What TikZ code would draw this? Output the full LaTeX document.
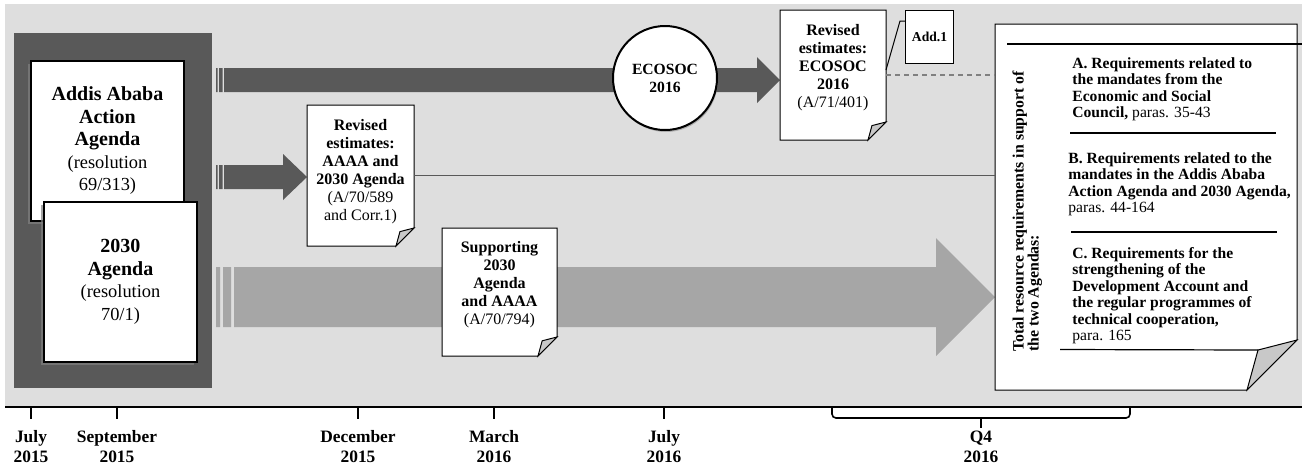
\documentclass[tikz,border=0pt]{standalone}
\usepackage{fontspec}
\setmainfont{Liberation Serif}
\usepackage{tikz}
\usetikzlibrary{calc,shadows}
\definecolor{bglight}{HTML}{DEDEDE}
\definecolor{bgdark}{HTML}{595959}
\definecolor{arrowlight}{HTML}{A6A6A6}
\definecolor{foldgray}{HTML}{C8C8C8}
\definecolor{dashgray}{HTML}{808080}
\pgfdeclarelayer{back}
\pgfdeclarelayer{paper}
\pgfsetlayers{back,paper,main}
\tikzstyle{agenda} = [rectangle, draw, line width=0.8pt, fill=white,
                 minimum width=76.5pt, minimum height=80pt, align=center,
                 font=\bfseries\fontsize{10}{11.25}\selectfont,
                 drop shadow={shadow xshift=-1.5pt, shadow yshift=-1.5pt, opacity=0.7}]
\tikzstyle{meeting} = [circle, draw, line width=1pt, fill=white, minimum size=52pt,
                 align=center, font=\bfseries\fontsize{7.8}{9}\selectfont,
                 drop shadow={shadow xshift=0.5pt, shadow yshift=-1pt, opacity=0.5}]
\tikzstyle{docbox} = [inner sep=0pt, outer sep=0pt, align=center,
                 font=\fontsize{8}{9}\selectfont]
\tikzstyle{reqtext} = [inner sep=0pt, anchor=north west, align=left,
                 font=\fontsize{7.8}{8.25}\selectfont]
\tikzstyle{datelabel} = [align=center, font=\bfseries\fontsize{8.7}{10}\selectfont]
\tikzstyle{fatdark} = [fill=bgdark]
\tikzstyle{fatlight} = [fill=arrowlight]
\tikzstyle{thinlink} = [draw=bgdark, line width=0.6pt]
\tikzstyle{dashlink} = [draw=dashgray, line width=0.6pt, dash pattern=on 2.5pt off 2pt]
\tikzstyle{sepline} = [draw, line width=0.6pt]
\newcommand{\agreg}[1]{{\mdseries\fontsize{9.2}{11.25}\selectfont #1}}

% folded paper behind a node
\newcommand{\docoutline}[2]{%
  \begin{pgfonlayer}{paper}
    \draw[fill=white, line width=0.5pt] (#1.north west) -- (#1.north east)
      -- ($(#1.south east)+(0,-#2)$) -- ($(#1.south east)+(-#2,0)$)
      -- (#1.south west) -- cycle;
    \draw[fill=foldgray, line width=0.5pt] ($(#1.south east)+(0,-#2)$)
      -- ($(#1.south east)+(-0.78*#2,-0.8*#2)$)
      -- ($(#1.south east)+(-#2,0)$) -- cycle;
  \end{pgfonlayer}}

\begin{document}
\begin{tikzpicture}[x=0.5pt, y=-0.5pt]
\useasboundingbox (0,0) rectangle (1302,468);

\begin{pgfonlayer}{back}
\fill[bglight] (5,4) rectangle (1302,406);
\fill[bgdark] (14,33) rectangle (212,388);
    %arrows
\fill[fatdark] (216,68) rectangle (217.5,92) (219,68) rectangle (222.5,92)
  (224,68) -- (757,68) -- (757,57) -- (780,80) -- (757,103) -- (757,92) -- (224,92) -- cycle;
\fill[fatdark] (216,165) rectangle (217.5,189) (219,165) rectangle (222.5,189)
  (224,165) -- (283,165) -- (283,154) -- (307,177) -- (283,200) -- (283,189) -- (224,189) -- cycle;
\fill[fatlight] (216,267) rectangle (220,327) (223,267) rectangle (231,327)
  (234,267) -- (936,267) -- (936,238) -- (995,297) -- (936,356) -- (936,327) -- (234,327) -- cycle;
\end{pgfonlayer}

\node [agenda] (aaaa) at (107.5,141) {Addis Ababa\\Action\\Agenda\\\agreg{(resolution}\\\agreg{69/313)}};
\node [agenda] (agenda2030) at (120.5,282) {2030\\Agenda\\\agreg{(resolution}\\\agreg{70/1)}};

\node [meeting] (ecosoc) at (665,78) {ECOSOC\\2016};

\node [docbox, minimum width=53.5pt, minimum height=70.5pt] (revA) at (360.5,175.5)
  {\textbf{Revised}\\\textbf{estimates:}\\\textbf{AAAA and}\\\textbf{2030 Agenda}\\(A/70/589\\and Corr.1)\\[-3pt]\mbox{}};
\docoutline{revA}{18}

\node [docbox, minimum width=57.5pt, minimum height=64pt] (support) at (499.5,292)
  {\textbf{Supporting}\\\textbf{2030}\\\textbf{Agenda}\\\textbf{and AAAA}\\(A/70/794)\\\mbox{}};
\docoutline{support}{19}

\node [docbox, minimum width=53pt, minimum height=65pt] (revE) at (833,75)
  {\textbf{Revised}\\\textbf{estimates:}\\\textbf{ECOSOC}\\\textbf{2016}\\(A/71/401)\\\mbox{}};
\docoutline{revE}{18}

\node [rectangle, draw, line width=0.5pt, fill=white, minimum width=22.5pt, minimum height=26.5pt,
  font=\bfseries\fontsize{6.8}{8}\selectfont] (add1) at (929.5,36.5) {Add.1};

\node [docbox, minimum width=151pt, minimum height=183pt] (total) at (1146,207) {};
\docoutline{total}{50}

\node [reqtext, rotate=90, font=\bfseries\fontsize{7.9}{7.5}\selectfont] (totalhead) at (1012,352)
  {Total resource requirements in support of\\the two Agendas:};
\node [reqtext] (reqA) at (1072,57) {\textbf{A. Requirements related to}\\\textbf{the mandates from the}\\\textbf{Economic and Social}\\\textbf{Council,} paras. 35-43};
\node [reqtext] (reqB) at (1068,152) {\textbf{B. Requirements related to the}\\\textbf{mandates in the Addis Ababa}\\\textbf{Action Agenda and 2030 Agenda,}\\paras. 44-164};
\node [reqtext] (reqC) at (1072,247) {\textbf{C. Requirements for the}\\\textbf{strengthening of the}\\\textbf{Development Account and}\\\textbf{the regular programmes of}\\\textbf{technical cooperation,}\\para. 165};

\draw[line width=0.8pt] (1007,44) -- (1302,44);
\draw[sepline] (1070,133) -- (1276,133);
\draw[sepline] (1071,232) -- (1277,232);
\draw[sepline] (1060,349.5) -- ($(total.south east)+(-39,-40)$);

\draw[thinlink] (revA.east) -- (revA.east -| total.west);
\draw[dashlink] (revE.east) -- (revE.east -| total.west);
\coordinate (addkink) at (900,21);
\draw[line width=0.5pt] ([yshift=2.5pt]revE.east) -- (addkink) -- (addkink -| add1.west);

\draw[line width=1pt] (5,406.5) -- (1302,406.5);
    %ticks
\foreach \x/\mon/\yr in {31/July/2015, 117/September/2015, 358/December/2015, 494/March/2016, 664/July/2016}
	\draw[line width=0.8pt] (\x,407) -- (\x,419)
		node[datelabel] (d\x) at (\x,447) {\mon\\\yr};

\draw[line width=0.8pt, rounded corners=2pt] (832,407) -- (832,418) -- (1130,418) -- (1130,407);
\draw[line width=1pt] (981,418) -- (981,428);
\node[datelabel] (q4) at (981,447) {Q4\\2016};

\end{tikzpicture}
\end{document}
